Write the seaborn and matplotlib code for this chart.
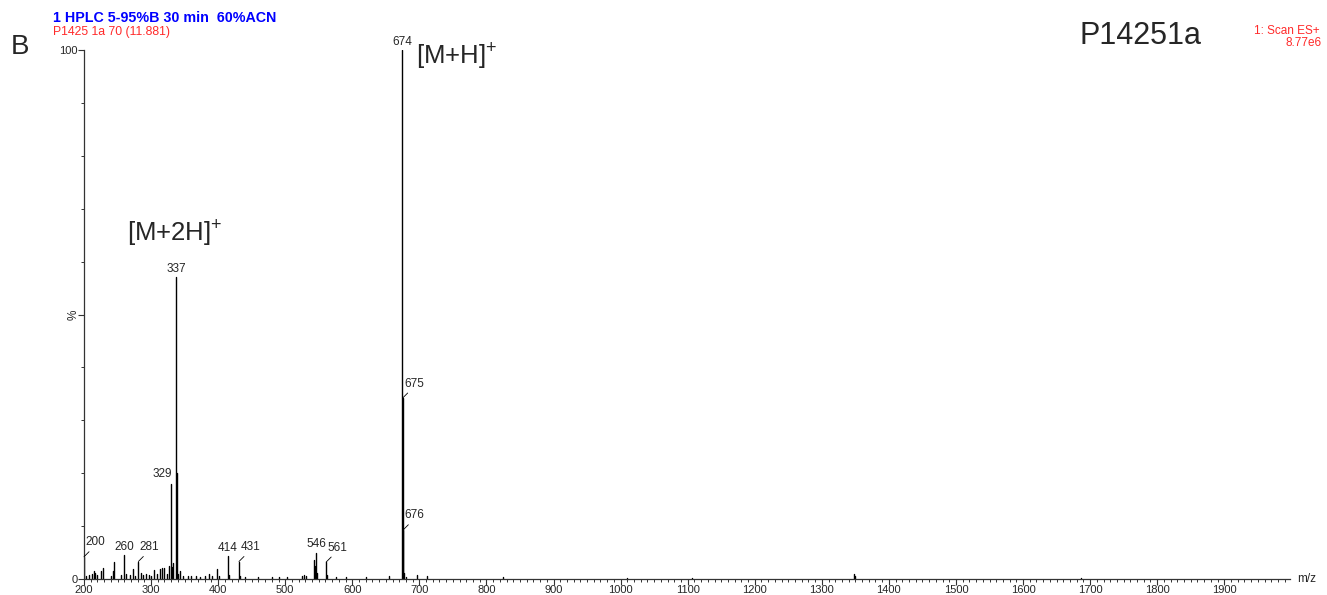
import matplotlib
matplotlib.use("Agg")
import matplotlib.pyplot as plt
from matplotlib.ticker import MultipleLocator
import pandas as pd
import seaborn as sns

# peak list: m/z and relative intensity (%)
mz = [200, 203, 207, 212, 215, 217, 220, 226, 228, 240, 243, 245, 255, 260, 263,
      268, 273, 276, 281, 285, 288, 293, 297, 300, 305, 309, 313, 316, 320, 324,
      327, 329, 331, 333, 337, 338, 340, 343, 347, 355, 360, 367, 373, 380, 386,
      391, 398, 402, 414, 416, 431, 433, 440, 460, 480, 490, 503, 525, 528, 531,
      543, 544, 546, 548, 561, 563, 575, 590, 620, 655, 674, 675, 676, 677, 680,
      697, 712, 825, 1010, 1107, 1348, 1349, 1686]
intensity = [4.2, 0.6, 0.8, 1.0, 1.6, 1.2, 0.8, 1.5, 2.0, 0.5, 1.5, 3.2, 0.7, 4.5, 0.9,
             0.8, 1.8, 0.6, 3.3, 1.2, 0.8, 0.9, 0.7, 0.6, 1.7, 0.9, 1.9, 2.0, 2.0, 1.0,
             2.5, 18.0, 2.2, 3.0, 57.0, 20.0, 1.0, 1.6, 0.6, 0.6, 0.5, 0.5, 0.4, 0.6, 0.9,
             0.5, 1.8, 0.5, 4.4, 0.8, 3.3, 0.6, 0.3, 0.3, 0.3, 0.3, 0.3, 0.6, 0.7, 0.5,
             3.6, 2.5, 5.0, 1.2, 3.2, 0.8, 0.3, 0.3, 0.3, 0.5, 100.0, 34.2, 9.3, 1.2, 0.3,
             0.7, 0.6, 0.3, 0.2, 0.2, 1.0, 0.5, 0.2]

# labelled peaks: "top" = label centred above, "right" = label to the right with a leader,
# "left" = label to the left of the peak
label_mz = [200, 260, 281, 329, 337, 414, 431, 546, 561, 674, 675, 676]
label_style = ["right", "top", "right", "left", "top", "top", "right", "top", "right",
               "top", "right", "right"]

xticks = list(range(200, 2000, 100))

# stick spectrum as one short line per peak
rows = []
for i, (m, v) in enumerate(zip(mz, intensity)):
    rows.append({"mz": m, "pct": 0.0, "peak": i})
    rows.append({"mz": m, "pct": v, "peak": i})
df = pd.DataFrame(rows)

sns.set_style("white")
plt.rcParams["font.family"] = ["Liberation Sans", "DejaVu Sans"]
plt.rcParams["mathtext.fontset"] = "custom"
plt.rcParams["mathtext.rm"] = "Liberation Sans"

fig = plt.figure(figsize=(13.27, 5.95), dpi=100)
ax = fig.add_axes([84 / 1327, 16 / 595, 1206 / 1327, 529 / 595])

sns.lineplot(data=df, x="mz", y="pct", units="peak", estimator=None, sort=False,
             color="black", lw=1.0, ax=ax)

ax.set_xlim(200, 1998)
ax.set_ylim(0, 100)
ax.set_xlabel("")
ax.set_ylabel("")
for s in ["top", "right"]:
    ax.spines[s].set_visible(False)
for s in ["left", "bottom"]:
    ax.spines[s].set_color("#333333")
    ax.spines[s].set_linewidth(0.9)

ax.set_xticks(xticks)
ax.set_xticklabels([str(t) for t in xticks])
ax.xaxis.set_minor_locator(MultipleLocator(10))
ax.set_yticks([0, 50, 100])
ax.set_yticklabels(["0", "", "100"])
ax.yaxis.set_minor_locator(MultipleLocator(10))
ax.tick_params(axis="both", which="major", direction="out", length=4, width=0.8,
               color="#333333", labelsize=8, pad=0.5, bottom=True, left=True)
ax.tick_params(axis="both", which="minor", direction="out", length=2.5, width=0.7,
               color="#333333", bottom=True, left=True)
ax.text(-0.004, 50, "%", transform=ax.get_yaxis_transform(), rotation=90,
        ha="right", va="center", fontsize=8.5)
ax.text(1.006, 0, "m/z", transform=ax.transAxes, ha="left", va="center", fontsize=8.5)

lookup = dict(zip(mz, intensity))
for m, style in zip(label_mz, label_style):
    v = lookup[m]
    if style == "top":
        ax.annotate(str(m), xy=(m, v), xytext=(0, 1.5), textcoords="offset points",
                    ha="center", va="bottom", fontsize=8.5)
    elif style == "left":
        ax.annotate(str(m), xy=(m, v), xytext=(1, 2.5), textcoords="offset points",
                    ha="right", va="bottom", fontsize=8.5)
    else:
        ax.annotate(str(m), xy=(m, v), xytext=(1, 6), textcoords="offset points",
                    ha="left", va="bottom", fontsize=8.5,
                    arrowprops=dict(arrowstyle="-", lw=0.6, color="black",
                                    shrinkA=0, shrinkB=0, relpos=(0.35, 0)))

ax.text(264, 64, "[M+2H]$^{+}$", fontsize=18.5, ha="left", va="baseline")
ax.text(695, 97.5, "[M+H]$^{+}$", fontsize=18.5, ha="left", va="baseline")

fig.text(53 / 1327, 1 - 18 / 595, "1 HPLC 5-95%B 30 min  60%ACN", color="#0000ff",
         fontsize=10.3, fontweight="bold", ha="left", va="center")
fig.text(53 / 1327, 1 - 32 / 595, "P1425 1a 70 (11.881)", color="#ff2a2a",
         fontsize=8.8, ha="left", va="center")
fig.text(11 / 1327, 1 - 47 / 595, "B", fontsize=20, ha="left", va="center")
fig.text(1080 / 1327, 1 - 36 / 595, "P14251a", fontsize=22, ha="left", va="center")
fig.text(1320 / 1327, 1 - 31 / 595, "1: Scan ES+", color="#ff2a2a", fontsize=8.5,
         ha="right", va="center")
fig.text(1322 / 1327, 1 - 43 / 595, "8.77e6", color="#ff2a2a", fontsize=8.5,
         ha="right", va="center")

fig.savefig("out.png", dpi=100)
